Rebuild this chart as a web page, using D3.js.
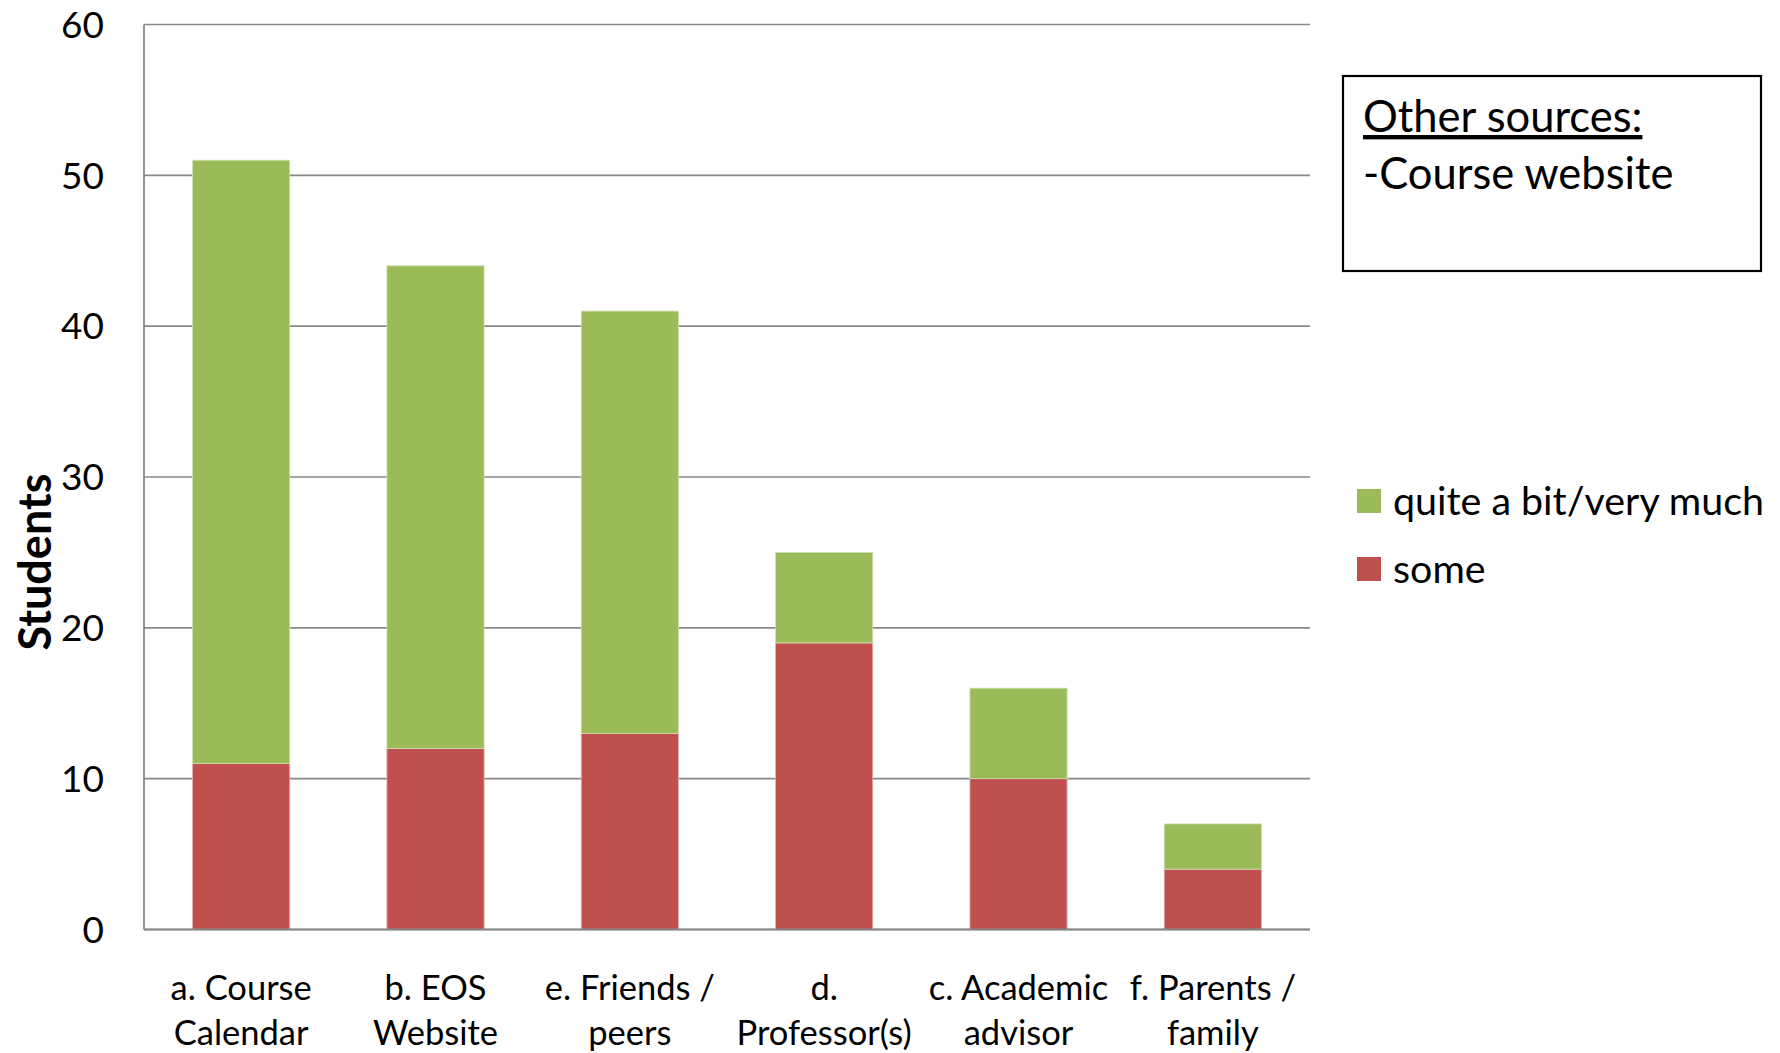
<!DOCTYPE html>
<html><head><meta charset="utf-8">
<script src="https://cdn.jsdelivr.net/npm/d3@7"></script>
<style>body{margin:0;background:#fff}svg{display:block}text{font-family:Lato,"Open Sans",sans-serif;fill:#000}</style>
</head><body><svg id="c" width="1780" height="1053"></svg>
<script>
const categories = [["a. Course","Calendar"],["b. EOS","Website"],["e. Friends /","peers"],["d.","Professor(s)"],["c. Academic","advisor"],["f. Parents /","family"]];
const some = [11, 12, 13, 19, 10, 4];
const quiteABit = [40, 32, 28, 6, 6, 3];
const yTicks = [0, 10, 20, 30, 40, 50, 60];
const seriesNames = ["quite a bit/very much", "some"];
const colors = {some: "#C0504D", quite: "#9BBB59"};

const svg = d3.select("#c");
const L = 144, R = 1310, T = 24.5, B = 929.5;
const x = d3.scaleBand().domain(d3.range(categories.length)).range([L, R]).paddingInner(0.5).paddingOuter(0.25);
const y = d3.scaleLinear().domain([0, 60]).range([B, T]);

// gridlines
svg.append("g").selectAll("line").data(yTicks).join("line")
  .attr("x1", L).attr("x2", R).attr("y1", d => y(d)).attr("y2", d => y(d))
  .attr("stroke", "#888").attr("stroke-width", 1.6);

// bars
const g = svg.append("g");
categories.forEach((c, i) => {
  g.append("rect").attr("x", x(i)).attr("width", x.bandwidth())
    .attr("y", y(some[i])).attr("height", y(0) - y(some[i]))
    .attr("fill", colors.some).attr("stroke", "#e8b0ae").attr("stroke-width", 0.8);
  g.append("rect").attr("x", x(i)).attr("width", x.bandwidth())
    .attr("y", y(some[i] + quiteABit[i])).attr("height", y(some[i]) - y(some[i] + quiteABit[i]))
    .attr("fill", colors.quite).attr("stroke", "#d0e0b0").attr("stroke-width", 0.8);
});

// axis lines
svg.append("line").attr("x1", L).attr("x2", L).attr("y1", T).attr("y2", B).attr("stroke", "#888").attr("stroke-width", 1.8);
svg.append("line").attr("x1", L).attr("x2", R).attr("y1", B).attr("y2", B).attr("stroke", "#888").attr("stroke-width", 1.8);

// y tick labels
svg.append("g").selectAll("text").data(yTicks).join("text")
  .attr("x", 104).attr("y", d => y(d)).attr("dy", "0.36em").attr("text-anchor", "end")
  .attr("font-size", 37).text(d => d);

// x labels
categories.forEach((c, i) => {
  const cx = x(i) + x.bandwidth() / 2;
  c.forEach((line, j) => {
    svg.append("text").attr("x", cx).attr("y", 1000 + j * 45).attr("text-anchor", "middle")
      .attr("font-size", 34.5).text(line);
  });
});

// y title
svg.append("text").attr("transform", "translate(51,562) rotate(-90)").attr("text-anchor", "middle")
  .attr("font-size", 45).attr("font-weight", "bold").text("Students");

// other sources box
svg.append("rect").attr("x", 1343).attr("y", 76).attr("width", 418).attr("height", 195)
  .attr("fill", "none").attr("stroke", "#000").attr("stroke-width", 2.2);
svg.append("text").attr("x", 1363).attr("y", 132).attr("font-size", 43.5).attr("text-decoration", "underline").text("Other sources:");
svg.append("text").attr("x", 1363).attr("y", 189).attr("font-size", 43.5).text("-Course website");

// legend
const leg = [[seriesNames[0], colors.quite, 489], [seriesNames[1], colors.some, 557]];
leg.forEach(([name, col, yy]) => {
  svg.append("rect").attr("x", 1357).attr("y", yy).attr("width", 24).attr("height", 24).attr("fill", col);
  svg.append("text").attr("x", 1393).attr("y", yy + 12).attr("dy", "0.36em").attr("font-size", 39.4).text(name);
});
</script></body></html>
